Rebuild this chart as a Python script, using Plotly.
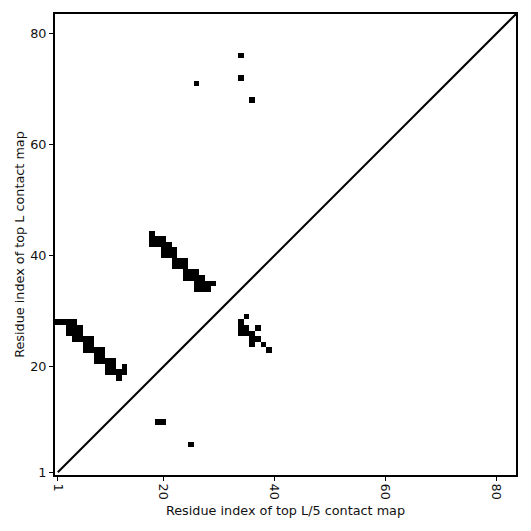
import plotly.graph_objects as go

# Sequence length (number of residues)
L = 83

# Contact cells (residue i on x, residue j on y)
contact_x = [
    # lower-left hairpin band
    1, 2, 3, 4,
    3, 4, 5,
    3, 4, 5,
    4, 5, 6, 7,
    6, 7,
    6, 7, 8, 9,
    8, 9,
    8, 9, 10, 11,
    10, 11, 13,
    10, 11, 12, 13,
    12,
    # upper hairpin band
    18,
    18, 19, 20,
    18, 19, 20, 21,
    20, 21, 22,
    20, 21, 22,
    22, 23, 24,
    22, 23, 24,
    24, 25, 26,
    24, 25, 26, 27,
    26, 27, 28, 29,
    26, 27, 28,
    # right cluster
    35, 34, 34, 35, 37, 34, 35, 36, 36, 37, 36, 38, 39,
    # isolated contacts
    34, 34, 26, 36, 19, 20, 25,
]
contact_y = [
    28, 28, 28, 28,
    27, 27, 27,
    26, 26, 26,
    25, 25, 25, 25,
    24, 24,
    23, 23, 23, 23,
    22, 22,
    21, 21, 21, 21,
    20, 20, 20,
    19, 19, 19, 19,
    18,
    44,
    43, 43, 43,
    42, 42, 42, 42,
    41, 41, 41,
    40, 40, 40,
    39, 39, 39,
    38, 38, 38,
    37, 37, 37,
    36, 36, 36, 36,
    35, 35, 35, 35,
    34, 34, 34,
    29, 28, 27, 27, 27, 26, 26, 26, 25, 25, 24, 24, 23,
    76, 72, 71, 68, 10, 10, 6,
]

tick_vals = [1, 20, 40, 60, 80]
tick_text = ["1", "20", "40", "60", "80"]

residues = list(range(1, L + 1))
z = [[0] * L for _ in range(L)]
for cx, cy in zip(contact_x, contact_y):
    z[cy - 1][cx - 1] = 1

fig = go.Figure()
fig.add_trace(go.Heatmap(
    x=residues, y=residues, z=z,
    colorscale=[[0, "white"], [1, "black"]],
    zmin=0, zmax=1, showscale=False, hoverinfo="skip",
))
diag = [1, L + 1]
fig.add_trace(go.Scatter(
    x=diag, y=diag, mode="lines",
    line=dict(color="black", width=2), showlegend=False, hoverinfo="skip",
))

font = dict(family="DejaVu Sans", size=12.8, color="#111111")
axis_common = dict(
    range=[0.5, L + 0.5], tickvals=tick_vals, ticktext=tick_text,
    showgrid=False, zeroline=False, showline=True, linecolor="black",
    linewidth=2, mirror=True, ticks="outside", ticklen=4, tickwidth=1.3,
    tickcolor="black", tickfont=font,
)
fig.update_xaxes(**axis_common, tickangle=90,
                 title=dict(text="Residue index of top L/5 contact map", font=font, standoff=7))
fig.update_yaxes(**axis_common,
                 title=dict(text="Residue index of top L contact map", font=font, standoff=3))
fig.update_layout(
    width=523, height=523,
    margin=dict(l=47, r=15, t=6, b=56, autoexpand=False),
    plot_bgcolor="white", paper_bgcolor="white",
    showlegend=False, font=font,
)
fig.write_html("out.html")
